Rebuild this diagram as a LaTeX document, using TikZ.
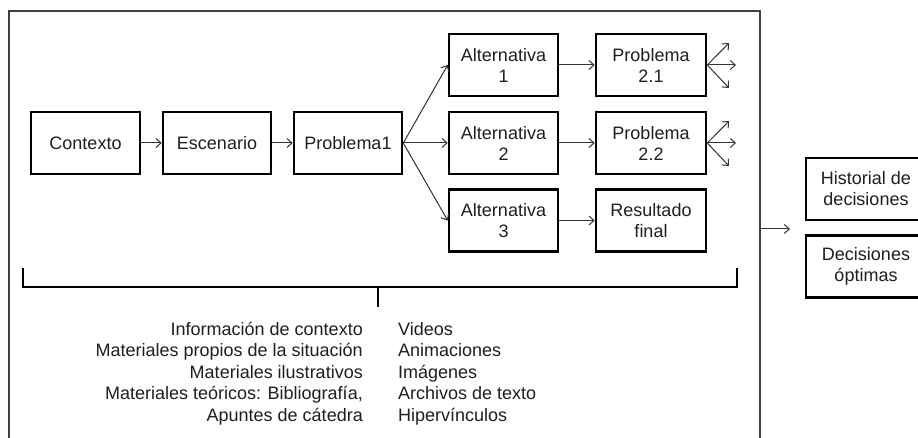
\documentclass[tikz,border=0pt]{standalone}
\usepackage{fontspec}
\setmainfont{Liberation Sans}
\usetikzlibrary{arrows.meta}
\begin{document}
\begin{tikzpicture}[x=1pt,y=-1pt,
  every node/.style={font=\fontsize{18}{21}\selectfont, text=black!88},
  box/.style={draw=black, line width=2.6pt, minimum height=62pt, align=center, inner sep=0pt},
  arr/.style={-{Straight Barb[length=5pt,width=9pt]}, line width=1pt, draw=black!80},
  frame/.style={line width=1.1pt, draw=black!75},
  brace/.style={line width=2.4pt, draw=black},
  lst/.style={inner sep=0pt}]
\useasboundingbox (0,0) rectangle (918,438);
\clip (0,0) rectangle (918,438);
\fill[white] (0,0) rectangle (918,438);
% outer frame
\draw[frame] (9,445) -- (9,11) -- (760,11) -- (760,445);
% boxes
\node[box, minimum width=109pt] (ctx) at (85.5,143) {Contexto};
\node[box, minimum width=108pt] (esc) at (217,143) {Escenario};
\node[box, minimum width=108pt] (p1) at (348,143) {Problema1};
\node[box, minimum width=109pt] (a1) at (503.5,65) {Alternativa\\1};
\node[box, minimum width=109pt] (a2) at (503.5,143) {Alternativa\\2};
\node[box, minimum width=109pt] (a3) at (503.5,220.5) {Alternativa\\3};
\node[box, minimum width=110pt] (p21) at (651,65) {Problema\\2.1};
\node[box, minimum width=110pt] (p22) at (651,143) {Problema\\2.2};
\node[box, minimum width=110pt] (res) at (651,220.5) {Resultado\\final};
\node[box, minimum width=120pt] (hist) at (866,189) {Historial de\\decisiones};
\node[box, minimum width=120pt] (opt) at (866,266.5) {Decisiones\\óptimas};
% arrows
\draw[arr] (ctx.east) -- (esc.west);
\draw[arr] (esc.east) -- (p1.west);
\draw[arr] (p1.east) -- (a1.west);
\draw[arr] (p1.east) -- (a2.west);
\draw[arr] (p1.east) -- (a3.west);
\draw[arr] (a1.east) -- (p21.west);
\draw[arr] (a2.east) -- (p22.west);
\draw[arr] (a3.east) -- (res.west);
\coordinate (t1a) at (729,43);
\coordinate (t1b) at (736,65);
\coordinate (t1c) at (729,88);
\coordinate (t2a) at (729,121);
\coordinate (t2b) at (736,143);
\coordinate (t2c) at (729,166);
\draw[arr] (p21.east) -- (t1a);
\draw[arr] (p21.east) -- (t1b);
\draw[arr] (p21.east) -- (t1c);
\draw[arr] (p22.east) -- (t2a);
\draw[arr] (p22.east) -- (t2b);
\draw[arr] (p22.east) -- (t2c);
\coordinate (fr) at (760,229);
\coordinate (fe) at (790,229);
\draw[arr] (fr) -- (fe);
% bracket
\draw[brace] (23,268) -- (23,287) -- (737,287) -- (737,268);
\coordinate (bt) at (378,287);
\coordinate (bb) at (378,307);
\draw[brace] (bt) -- (bb);
% lists
\node[lst, anchor=base east] (l1) at (363,335) {Información de contexto};
\node[lst, anchor=base east] (l2) at (363,356.5) {Materiales propios de la situación};
\node[lst, anchor=base east] (l3) at (363,378) {Materiales ilustrativos};
\node[lst, anchor=base east] (l4) at (363,399.5) {Materiales teóricos: Bibliografía,};
\node[lst, anchor=base east] (l5) at (363,421) {Apuntes de cátedra};
\node[lst, anchor=base west] (r1) at (398,335) {Videos};
\node[lst, anchor=base west] (r2) at (398,356.5) {Animaciones};
\node[lst, anchor=base west] (r3) at (398,378) {Imágenes};
\node[lst, anchor=base west] (r4) at (398,399.5) {Archivos de texto};
\node[lst, anchor=base west] (r5) at (398,421) {Hipervínculos};
\end{tikzpicture}
\end{document}
